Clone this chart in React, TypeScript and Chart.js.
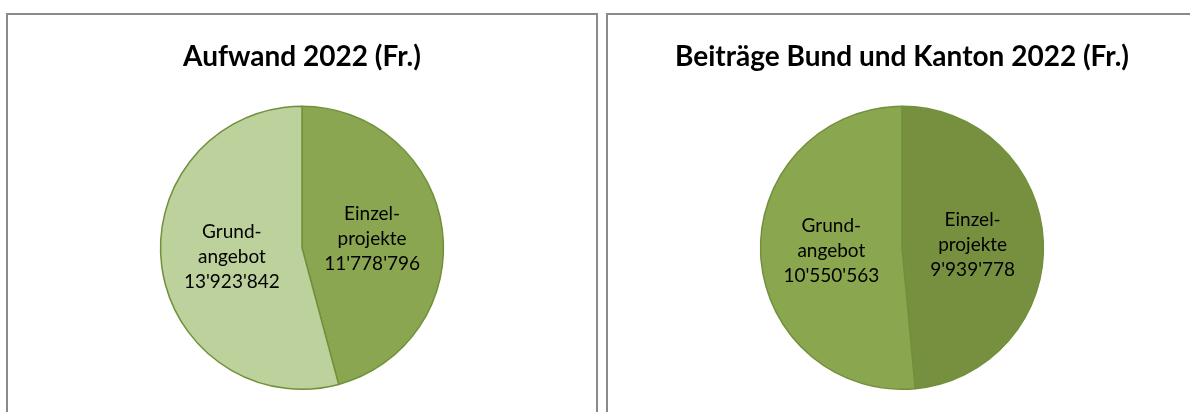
import React, { useEffect, useRef } from "react";
import { Chart, registerables } from "chart.js";

Chart.register(...registerables);

// ---- Data ----
const sliceNames: string[][] = [
  ["Einzel-", "projekte"],
  ["Grund-", "angebot"],
];
const aufwandValues: number[] = [11778796, 13923842];
const beitraegeValues: number[] = [9939778, 10550563];
const aufwandTitle = "Aufwand 2022 (Fr.)";
const beitraegeTitle = "Beiträge Bund und Kanton 2022 (Fr.)";
const aufwandColors: string[] = ["#8ba650", "#bcd19b"];
const beitraegeColors: string[] = ["#77903f", "#8aa64f"];

const fmt = (n: number): string =>
  Math.round(n)
    .toString()
    .replace(/\B(?=(\d{3})+(?!\d))/g, "'");

const sliceLabelPlugin = {
  id: "sliceLabels",
  afterDatasetsDraw(chart: any) {
    const ctx: CanvasRenderingContext2D = chart.ctx;
    const meta = chart.getDatasetMeta(0);
    const data = chart.data.datasets[0].data as number[];
    ctx.save();
    ctx.font = "19px Lato";
    ctx.fillStyle = "#000000";
    ctx.textAlign = "center";
    ctx.textBaseline = "middle";
    const lh = 25;
    meta.data.forEach((arc: any, i: number) => {
      const { x, y, startAngle, endAngle, outerRadius } = arc.getProps(
        ["x", "y", "startAngle", "endAngle", "outerRadius"],
        true
      );
      const mid = (startAngle + endAngle) / 2;
      const d = outerRadius * 0.5;
      const cx = x + Math.cos(mid) * d;
      const cy = y + Math.sin(mid) * d;
      const lines = [...sliceNames[i], fmt(data[i])];
      const top = cy - ((lines.length - 1) * lh) / 2;
      lines.forEach((t, k) => ctx.fillText(t, cx, top + k * lh));
    });
    ctx.restore();
  },
};

function PieChart({
  title,
  values,
  colors,
}: {
  title: string;
  values: number[];
  colors: string[];
}) {
  const ref = useRef<HTMLCanvasElement | null>(null);
  useEffect(() => {
    if (!ref.current) return;
    const chart = new Chart(ref.current, {
      type: "pie",
      data: {
        labels: sliceNames.map((s) => s.join("")),
        datasets: [
          {
            data: values,
            backgroundColor: colors,
            borderColor: "#71903a",
            borderWidth: 1.5,
          },
        ],
      },
      options: {
        responsive: false,
        animation: false,
        devicePixelRatio: 1,
        layout: { padding: { top: 0, bottom: 25, left: 0, right: 0 } },
        plugins: {
          legend: { display: false },
          tooltip: { enabled: false },
          title: {
            display: true,
            text: title,
            color: "#000000",
            font: { family: "Lato", size: 28, weight: "bold", lineHeight: 1.2 },
            padding: { top: 25, bottom: 32 },
          },
        },
      },
      plugins: [sliceLabelPlugin],
    });
    return () => chart.destroy();
  }, [title, values, colors]);
  return <canvas ref={ref} width={588} height={400} style={{ display: "block" }} />;
}

export default function App() {
  const panel = (left: number): React.CSSProperties => ({
    position: "absolute",
    left,
    top: 13,
    width: 588,
    height: 400,
    border: "2px solid #8a8a8a",
    background: "#ffffff",
  });
  return (
    <div
      style={{
        position: "absolute",
        left: 0,
        top: 0,
        width: 1190,
        height: 412,
        overflow: "hidden",
        background: "#ffffff",
      }}
    >
      <div style={panel(6)}>
        <PieChart title={aufwandTitle} values={aufwandValues} colors={aufwandColors} />
      </div>
      <div style={panel(606)}>
        <PieChart title={beitraegeTitle} values={beitraegeValues} colors={beitraegeColors} />
      </div>
    </div>
  );
}
